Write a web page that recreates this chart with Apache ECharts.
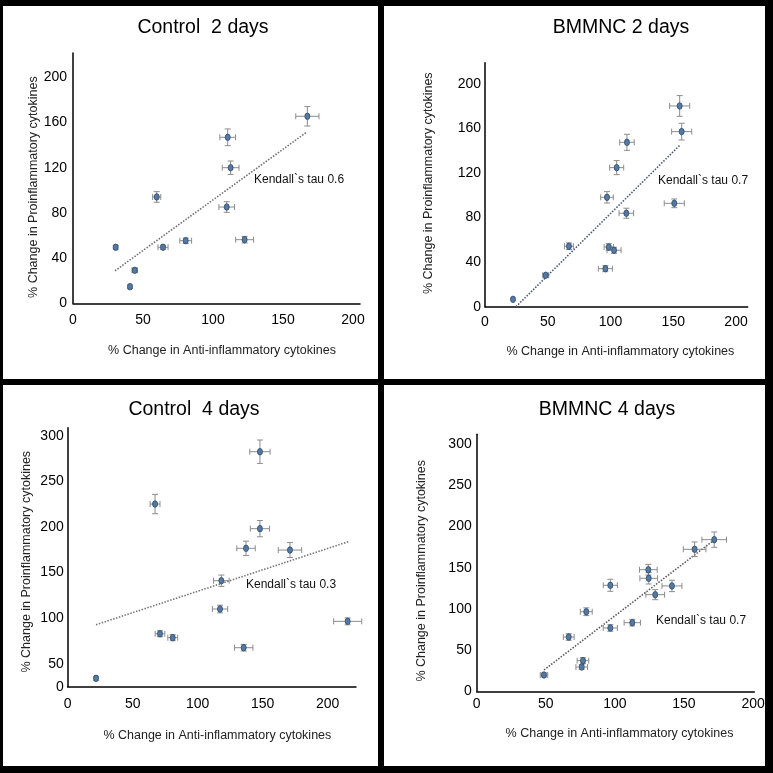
<!DOCTYPE html>
<html>
<head>
<meta charset="utf-8">
<script src="https://cdn.jsdelivr.net/npm/echarts@6/dist/echarts.min.js"></script>
<style>
  html, body { margin: 0; padding: 0; background: #000; }
  #wrap { position: relative; width: 773px; height: 773px; background: #000; overflow: hidden; }
  .panel { position: absolute; background: #fff; }
  #chart { position: absolute; left: 0; top: 0; width: 773px; height: 773px; }
</style>
</head>
<body>
<div id="wrap">
  <div class="panel" style="left:3px;top:6px;width:375px;height:373px;"></div>
  <div class="panel" style="left:384px;top:6px;width:381px;height:373px;"></div>
  <div class="panel" style="left:3px;top:385px;width:375px;height:381px;"></div>
  <div class="panel" style="left:384px;top:385px;width:381px;height:381px;"></div>
  <div id="chart"></div>
</div>
<script>
// ---------- Data ----------
// Control 2 days
const c2X    = [30.5, 44.1, 40.7, 59.8, 64.3, 80.5, 110.5, 112.6, 109.8, 122.6, 167.4];
const c2Y    = [49.6, 29.2, 14.7, 94.1, 49.6, 55.4, 146.9, 120.0, 85.2, 56.3, 165.5];
const c2XErr = [1.0, 1.9, 1.2, 2.9, 3.6, 4.2, 5.6, 6.0, 5.6, 6.4, 8.3];
const c2YErr = [1.5, 1.8, 1.5, 4.7, 1.8, 2.4, 7.4, 5.9, 4.7, 2.9, 8.6];
const c2Trend = [[30, 28.8], [166.4, 151.0]];

// BMMNC 2 days
const b2X    = [22.3, 48.4, 66.9, 95.9, 98.6, 102.8, 97.2, 112.6, 104.9, 113.1, 150.8, 156.7, 155.1];
const b2Y    = [6.6, 28.2, 54.2, 34.1, 53.5, 50.6, 98.1, 83.8, 124.7, 147.4, 92.7, 157.0, 180.0];
const b2XErr = [0, 2.4, 3.5, 5.6, 3.7, 5.6, 5.0, 5.8, 5.6, 5.8, 8.0, 8.0, 8.0];
const b2YErr = [0, 1.5, 3.0, 2.7, 3.0, 2.7, 5.1, 4.5, 6.3, 7.2, 3.9, 7.5, 9.3];
const b2Trend = [[24.7, 0], [155.4, 145.0]];

// Control 4 days
const c4X    = [21.8, 67.2, 71.0, 80.8, 117.2, 118.2, 135.4, 137.2, 147.9, 147.9, 171.0, 215.4];
const c4Y    = [34.2, 225.1, 83.0, 78.7, 110.1, 141.1, 67.7, 176.6, 198.1, 282.4, 174.7, 96.6];
const c4XErr = [1.0, 3.8, 3.7, 3.8, 5.9, 6.0, 7.1, 7.1, 7.4, 7.8, 9.0, 10.8];
const c4YErr = [2.2, 10.6, 3.3, 3.3, 4.2, 6.2, 3.6, 7.8, 8.9, 12.8, 8.2, 3.8];
const c4Trend = [[21.8, 92.9], [215.8, 183.8]];

// BMMNC 4 days
const b4X    = [48.7, 76.0, 76.9, 66.6, 79.3, 96.7, 96.7, 112.6, 124.2, 124.5, 129.2, 141.3, 157.7, 171.9];
const b4Y    = [19.8, 29.5, 37.2, 65.9, 96.6, 76.9, 128.7, 83.3, 147.6, 137.2, 117.3, 127.9, 172.4, 184.1];
const b4XErr = [2.7, 4.2, 4.2, 3.9, 4.3, 5.1, 5.1, 5.9, 6.4, 6.4, 6.8, 7.2, 8.2, 8.9];
const b4YErr = [2.4, 2.8, 3.6, 4.0, 4.7, 4.0, 7.3, 4.0, 6.5, 6.9, 6.1, 6.9, 8.9, 9.3];
const b4Trend = [[48.7, 25.9], [171.9, 183.7]];

// Tick labels
const xTicks2d = [0, 50, 100, 150, 200];
const yTicks2d = [0, 40, 80, 120, 160, 200];
const xTicks4d = [0, 50, 100, 150, 200];
const yTicks4d = [0, 50, 100, 150, 200, 250, 300];
const c4YTickValues = [25, 50, 100, 150, 200, 250, 300];
const c4YTickLabels = ['0', '50', '100', '150', '200', '250', '300'];

const titles = ['Control  2 days', 'BMMNC 2 days', 'Control  4 days', 'BMMNC 4 days'];
const tauTexts = ['Kendall`s tau 0.6', 'Kendall`s tau 0.7', 'Kendall`s tau 0.3', 'Kendall`s tau 0.7'];
const xName = '% Change in Anti-inflammatory cytokines';
const yName = '% Change in Proinflammatory cytokines';

// ---------- Build ----------
const FONT = '"Liberation Sans", Arial, Helvetica, sans-serif';

function tickFmt(values, labels) {
  return function (v) {
    for (let i = 0; i < values.length; i++) {
      if (Math.abs(values[i] - v) < 1e-6) return labels ? labels[i] : String(values[i]);
    }
    return '';
  };
}

const panels = [
  { grid: { left: 73, top: 53, width: 287, height: 250.3 },
    x: { min: 0, max: 205, interval: 50, fmt: tickFmt(xTicks2d), margin: 10, nameGap: 41, namePad: [0, 0, 0, 11] },
    y: { min: 0, max: 221.5, interval: 40, fmt: tickFmt(yTicks2d), margin: 6, nameGap: 33, namePad: [0, 18, 0, 0] },
    xs: c2X, ys: c2Y, xe: c2XErr, ye: c2YErr, trend: c2Trend, trendColor: '#6e6e6e',
    title: { left: 198, top: 13 }, tau: { left: 254, top: 174 } },
  { grid: { left: 485, top: 62.7, width: 262.7, height: 244 },
    x: { min: 0, max: 209.3, interval: 50, fmt: tickFmt(xTicks2d), margin: 8, nameGap: 38, namePad: [0, 0, 0, 8] },
    y: { min: 0, max: 218.8, interval: 40, fmt: tickFmt(yTicks2d), margin: 4, nameGap: 50, namePad: [0, 0, 0, 3] },
    xs: b2X, ys: b2Y, xe: b2XErr, ye: b2YErr, trend: b2Trend, trendColor: '#4a5878',
    title: { left: 616, top: 13 }, tau: { left: 658, top: 175 } },
  { grid: { left: 67.7, top: 427.7, width: 288.3, height: 259 },
    x: { min: 0, max: 221.8, interval: 50, fmt: tickFmt(xTicks4d), margin: 10, nameGap: 42, namePad: [0, 0, 0, 11] },
    y: { min: 25, max: 308.7, interval: 25, fmt: tickFmt(c4YTickValues, c4YTickLabels), margin: 4, nameGap: 35, namePad: [0, 9, 0, 0] },
    xs: c4X, ys: c4Y, xe: c4XErr, ye: c4YErr, trend: c4Trend, trendColor: '#777777',
    title: { left: 189, top: 395 }, tau: { left: 246, top: 579 } },
  { grid: { left: 476.7, top: 434.3, width: 277.6, height: 257 },
    x: { min: 0, max: 200.9, interval: 50, fmt: tickFmt(xTicks4d), margin: 6, nameGap: 36, namePad: [0, 0, 0, 8] },
    y: { min: 0, max: 312, interval: 50, fmt: tickFmt(yTicks4d), margin: 5, nameGap: 49, namePad: [0, 16, 0, 0] },
    xs: b4X, ys: b4Y, xe: b4XErr, ye: b4YErr, trend: b4Trend, trendColor: '#5a5a5a',
    title: { left: 602, top: 395 }, tau: { left: 656, top: 615 } }
];

const option = {
  backgroundColor: 'transparent',
  animation: false,
  title: [],
  grid: [],
  xAxis: [],
  yAxis: [],
  series: []
};

panels.forEach(function (p, i) {
  option.title.push({
    text: titles[i], left: p.title.left, top: p.title.top, textAlign: 'center',
    textStyle: { fontFamily: FONT, fontSize: 19.5, fontWeight: 'normal', color: '#000' }
  });
  option.title.push({
    text: tauTexts[i], left: p.tau.left, top: p.tau.top, padding: 0,
    textStyle: { fontFamily: FONT, fontSize: 12, fontWeight: 'normal', color: '#111' }
  });
  option.grid.push(Object.assign({ containLabel: false }, p.grid));
  option.xAxis.push({
    type: 'value', gridIndex: i, min: p.x.min, max: p.x.max, interval: p.x.interval,
    name: xName, nameLocation: 'middle', nameGap: p.x.nameGap,
    nameTextStyle: { fontFamily: FONT, fontSize: 12.5, color: '#222', padding: p.x.namePad },
    axisLine: { show: true, onZero: false, lineStyle: { color: '#000', width: 1.5 } },
    axisTick: { show: false },
    splitLine: { show: false },
    axisLabel: { formatter: p.x.fmt, margin: p.x.margin, fontFamily: FONT, fontSize: 14, color: '#000',
                 showMinLabel: true, showMaxLabel: true, hideOverlap: false }
  });
  option.yAxis.push({
    type: 'value', gridIndex: i, min: p.y.min, max: p.y.max, interval: p.y.interval,
    name: yName, nameLocation: 'middle', nameGap: p.y.nameGap, nameRotate: 90,
    nameTextStyle: { fontFamily: FONT, fontSize: 12.5, color: '#222', padding: p.y.namePad },
    axisLine: { show: true, onZero: false, lineStyle: { color: '#000', width: 1.5 } },
    axisTick: { show: false },
    splitLine: { show: false },
    axisLabel: { formatter: p.y.fmt, margin: p.y.margin, fontFamily: FONT, fontSize: 14, color: '#000',
                 showMinLabel: true, showMaxLabel: true, hideOverlap: false }
  });

  const errData = p.xs.map(function (x, k) { return [x, p.ys[k], p.xe[k], p.ye[k]]; });
  const ptData = p.xs.map(function (x, k) { return [x, p.ys[k]]; });

  // trend line
  option.series.push({
    type: 'line', xAxisIndex: i, yAxisIndex: i, data: p.trend, symbol: 'none', silent: true,
    lineStyle: { color: p.trendColor, width: 1.6, type: [1.5, 1.5] }, z: 1
  });
  // error bars
  option.series.push({
    type: 'custom', xAxisIndex: i, yAxisIndex: i, data: errData, silent: true, z: 2,
    renderItem: function (params, api) {
      const x = api.value(0), y = api.value(1), ex = api.value(2), ey = api.value(3);
      const c = api.coord([x, y]);
      const l = api.coord([x - ex, y]), r = api.coord([x + ex, y]);
      const t = api.coord([x, y + ey]), b = api.coord([x, y - ey]);
      const cap = 3;
      const st = { stroke: '#8c8c8c', lineWidth: 1 };
      const children = [];
      if (ex > 0) {
        children.push({ type: 'line', shape: { x1: l[0], y1: c[1], x2: r[0], y2: c[1] }, style: st });
        children.push({ type: 'line', shape: { x1: l[0], y1: c[1] - cap, x2: l[0], y2: c[1] + cap }, style: st });
        children.push({ type: 'line', shape: { x1: r[0], y1: c[1] - cap, x2: r[0], y2: c[1] + cap }, style: st });
      }
      if (ey > 0) {
        children.push({ type: 'line', shape: { x1: c[0], y1: t[1], x2: c[0], y2: b[1] }, style: st });
        children.push({ type: 'line', shape: { x1: c[0] - cap, y1: t[1], x2: c[0] + cap, y2: t[1] }, style: st });
        children.push({ type: 'line', shape: { x1: c[0] - cap, y1: b[1], x2: c[0] + cap, y2: b[1] }, style: st });
      }
      return { type: 'group', children: children };
    }
  });
  // points
  option.series.push({
    type: 'scatter', xAxisIndex: i, yAxisIndex: i, data: ptData, symbol: 'circle', symbolSize: [5, 6.5],
    silent: true, z: 3,
    itemStyle: { color: '#5479a3', borderColor: '#2e4a6e', borderWidth: 0.8, opacity: 1 }
  });
});

const chart = echarts.init(document.getElementById('chart'), null, { renderer: 'canvas' });
chart.setOption(option);
</script>
</body>
</html>
